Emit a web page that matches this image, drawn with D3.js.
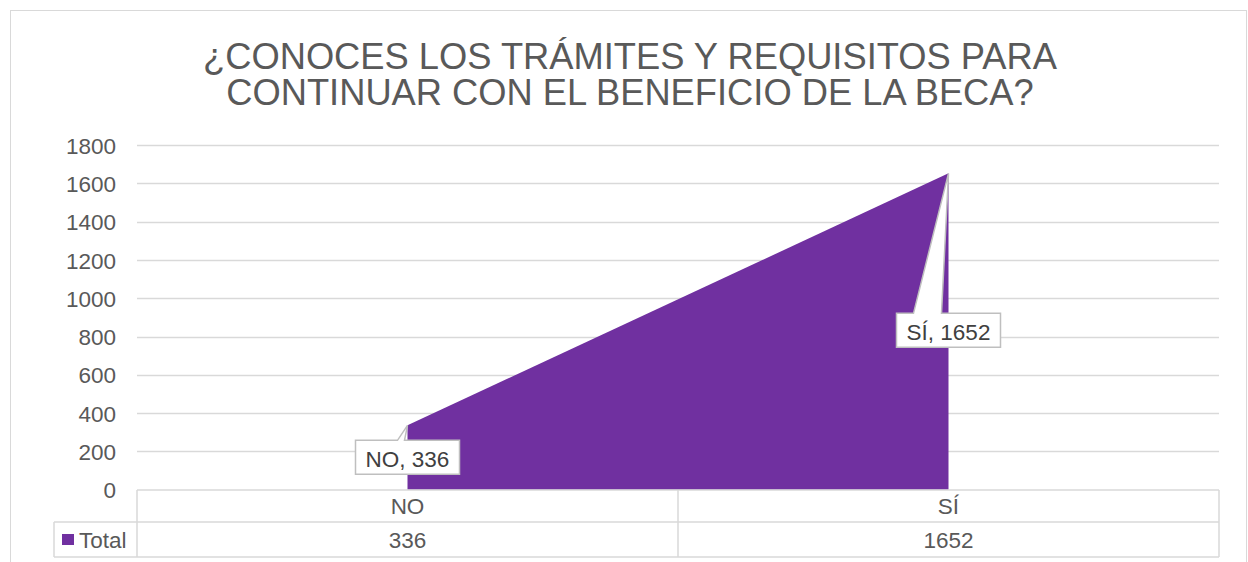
<!DOCTYPE html>
<html>
<head>
<meta charset="utf-8">
<script src="https://cdn.jsdelivr.net/npm/d3@7"></script>
<style>
  html, body { margin: 0; padding: 0; background: #fff; }
  svg { display: block; font-family: "Liberation Sans", Arial, sans-serif; }
</style>
</head>
<body>
<svg id="chart" width="1248" height="562"></svg>
<script>
var titleLines = ['¿CONOCES LOS TRÁMITES Y REQUISITOS PARA', 'CONTINUAR CON EL BENEFICIO DE LA BECA?'];
var categories = ['NO', 'SÍ'];
var totals = [336, 1652];
var seriesName = 'Total';
var yTicks = [0, 200, 400, 600, 800, 1000, 1200, 1400, 1600, 1800];

var purple = '#7030a0';
var lineColor = '#d9d9d9';
var textColor = '#595959';
var smallFont = 22.5;

var plot = {left: 137, right: 1219, top: 145, bottom: 489.7};
var table = {legendLeft: 54, row1: 490, row2: 522, bottom: 557};
// distance from the point to the top of each callout box
var calloutDrop = [15, 140];

var svg = d3.select('#chart');

svg.append('rect')
  .attr('x', 10.5).attr('y', 10.5)
  .attr('width', 1236).attr('height', 600)
  .attr('fill', 'none').attr('stroke', lineColor);

svg.append('g').selectAll('text').data(titleLines).enter().append('text')
  .attr('x', 630)
  .attr('y', function(d, i) { return 69 + i * 36; })
  .attr('text-anchor', 'middle')
  .attr('font-size', 36.3)
  .attr('fill', textColor)
  .text(function(d) { return d; });

var x = d3.scaleBand().domain(categories).range([plot.left, plot.right]).padding(0);
var y = d3.scaleLinear().domain([0, 1800]).range([plot.bottom, plot.top]);

function cx(d) { return x(d) + x.bandwidth() / 2; }

// gridlines
svg.append('g').selectAll('line').data(yTicks.filter(function(t) { return t > 0; })).enter().append('line')
  .attr('x1', plot.left).attr('x2', plot.right)
  .attr('y1', function(d) { return Math.round(y(d)) + 0.5; })
  .attr('y2', function(d) { return Math.round(y(d)) + 0.5; })
  .attr('stroke', lineColor).attr('stroke-width', 1.5);

// y axis labels
var yAxis = d3.axisLeft(y).tickValues(yTicks).tickFormat(d3.format('d')).tickSize(0).tickPadding(0);
var yg = svg.append('g').attr('transform', 'translate(116,0)').call(yAxis);
yg.select('.domain').remove();
yg.selectAll('text')
  .attr('font-size', smallFont)
  .attr('font-family', '"Liberation Sans", Arial, sans-serif')
  .attr('fill', textColor)
  .attr('dy', '0.36em');

// area
var points = categories.map(function(c, i) { return {cat: c, value: totals[i]}; });
var area = d3.area()
  .x(function(d) { return cx(d.cat); })
  .y0(y(0))
  .y1(function(d) { return y(d.value); });
svg.append('path').datum(points)
  .attr('d', area)
  .attr('fill', purple);

// callouts
var boxW = 104, boxH = 34;
var callouts = svg.append('g').selectAll('g').data(points).enter().append('g');
callouts.each(function(d, i) {
  var g = d3.select(this);
  var px = cx(d.cat), py = y(d.value);
  var top = py + calloutDrop[i];
  var left = px - boxW / 2;
  var w0 = i === 0 ? px - 10 : px - 35;
  var w1 = i === 0 ? px - 3 : px - 7;
  var path = d3.path();
  path.moveTo(left, top);
  path.lineTo(w0, top);
  path.lineTo(px, py);
  path.lineTo(w1, top);
  path.lineTo(left + boxW, top);
  path.lineTo(left + boxW, top + boxH);
  path.lineTo(left, top + boxH);
  path.closePath();
  g.append('path')
    .attr('d', path.toString())
    .attr('fill', '#fff')
    .attr('stroke', '#bfbfbf')
    .attr('stroke-width', 1.5);
  g.append('text')
    .attr('x', px).attr('y', top + 27)
    .attr('text-anchor', 'middle')
    .attr('font-size', smallFont)
    .attr('fill', '#404040')
    .text(d.cat + ', ' + d.value);
});

// data table
var tbl = svg.append('g').attr('stroke', lineColor).attr('stroke-width', 1.5);
tbl.append('line').attr('x1', plot.left).attr('x2', plot.right).attr('y1', table.row1).attr('y2', table.row1);
[table.row2, table.bottom].forEach(function(yy) {
  tbl.append('line').attr('x1', table.legendLeft).attr('x2', plot.right).attr('y1', yy).attr('y2', yy);
});
tbl.append('line').attr('x1', table.legendLeft).attr('x2', table.legendLeft).attr('y1', table.row2).attr('y2', table.bottom);
[plot.left, x(categories[1]), plot.right].forEach(function(xx) {
  tbl.append('line').attr('x1', xx).attr('x2', xx).attr('y1', table.row1).attr('y2', table.bottom);
});

svg.append('g').selectAll('text').data(categories).enter().append('text')
  .attr('x', cx).attr('y', 513.5)
  .attr('text-anchor', 'middle').attr('font-size', smallFont).attr('fill', textColor)
  .text(function(d) { return d; });

svg.append('g').selectAll('text').data(points).enter().append('text')
  .attr('x', function(d) { return cx(d.cat); }).attr('y', 547.5)
  .attr('text-anchor', 'middle').attr('font-size', smallFont).attr('fill', textColor)
  .text(function(d) { return d.value; });

svg.append('rect').attr('x', 62).attr('y', 534).attr('width', 12).attr('height', 11).attr('fill', purple);
svg.append('text').attr('x', 79).attr('y', 547.5)
  .attr('font-size', smallFont).attr('fill', textColor).text(seriesName);
</script>
</body>
</html>
